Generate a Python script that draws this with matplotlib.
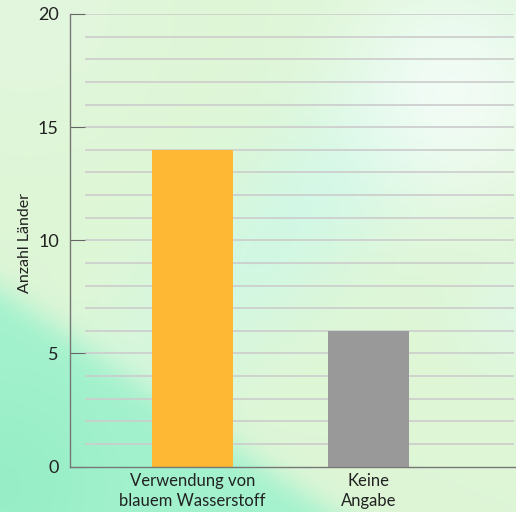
import numpy as np
import matplotlib.pyplot as plt

categories = ["Verwendung von\nblauem Wasserstoff", "Keine\nAngabe"]
values = [14, 6]
colors = ["#ffb833", "#999999"]
yticks = [0, 5, 10, 15, 20]

plt.rcParams['font.family'] = ['Lato', 'DejaVu Sans']

fig = plt.figure(figsize=(5.16, 5.12), dpi=100)

# background gradient
H, W = 512, 516
u, v = np.meshgrid(np.linspace(0, 1, W), np.linspace(0, 1, H))
img = np.zeros((H, W, 3))
img[:] = np.array([222, 246, 214]) / 255

def blend(img, mask, col):
    col = np.array(col) / 255
    return img * (1 - mask[..., None]) + col * mask[..., None]

band = np.exp(-(((u - 0.6) * 0.7 + (v - 0.4) * 0.7) ** 2 / 0.02 + ((u - 0.6) * 0.7 - (v - 0.4) * 0.7) ** 2 / 0.25))
img = blend(img, 0.85 * band, (206, 248, 230))
white = np.exp(-((u - 0.88) ** 2 + (v - 0.18) ** 2) / 0.05)
img = blend(img, 0.85 * white, (247, 253, 250))
tl = np.exp(-((u - 0.05) ** 2 + (v - 0.02) ** 2) / 0.05)
img = blend(img, 0.5 * tl, (232, 248, 232))
rc = np.exp(-((u - 1.0) ** 2 + (v - 0.62) ** 2) / 0.01)
img = blend(img, 0.5 * rc, (225, 250, 240))
line = 0.568 + 0.676 * u
mint = 1 / (1 + np.exp(-(v - line) / 0.02))
img = blend(img, mint, (163, 242, 206))
corner = np.exp(-((u - 0.0) ** 2 + (v - 0.95) ** 2) / 0.04)
img = blend(img, 0.5 * corner * mint, (140, 234, 190))

bg = fig.add_axes([0, 0, 1, 1], zorder=-1)
bg.imshow(img, aspect='auto', extent=[0, 1, 0, 1])
bg.axis('off')

ax = fig.add_axes([70 / 516, 45.5 / 512, 1 - 70 / 516, (498 - 45.5) / 512])
ax.patch.set_alpha(0)
x = np.arange(len(categories))
ax.set_xlim(-0.696, 1.838)
ax.set_ylim(0, 20)

# gridlines each unit, starting a bit right of the spine
ax.hlines(np.arange(1, 21), -0.611, 1.826, color="#cccccc", lw=1.2, zorder=1)

ax.bar(x, values, width=0.46, color=colors, zorder=2)

ax.set_yticks(yticks)
ax.set_xticks(x)
ax.set_xticklabels(categories, fontsize=12, color="#222222", linespacing=1.25)
ax.tick_params(axis='y', direction='in', length=11, color="#666666", labelsize=13, labelcolor="#222222", pad=8)
ax.tick_params(axis='x', length=0, pad=5)
for s in ['top', 'right']:
    ax.spines[s].set_visible(False)
for s in ['left', 'bottom']:
    ax.spines[s].set_color("#777777")
    ax.spines[s].set_linewidth(1)
ax.set_ylabel("Anzahl Länder", fontsize=11.5, color="#222222")
ax.yaxis.set_label_coords(-0.085, 0.495)

fig.savefig("out.png", dpi=100)
